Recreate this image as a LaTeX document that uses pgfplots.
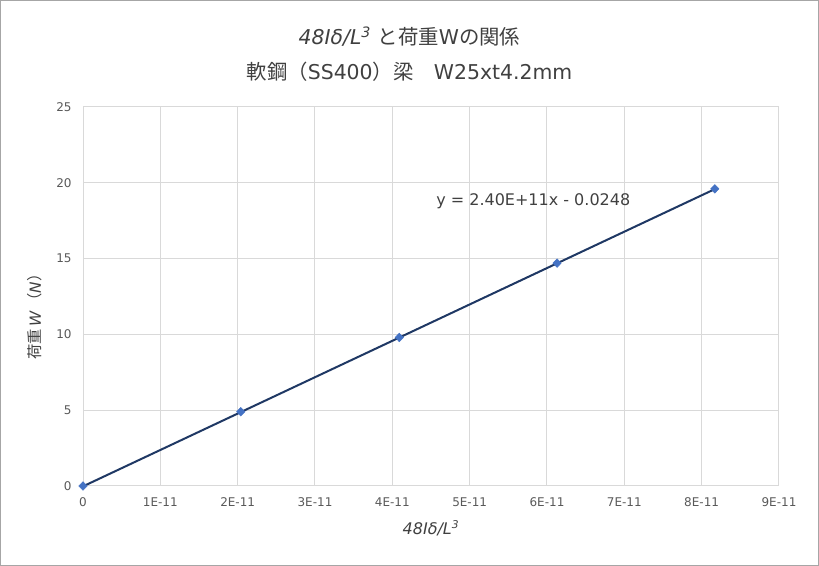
\documentclass[border=0pt]{standalone}
\usepackage{pgfplots}
\pgfplotsset{compat=1.18}
\usepackage{fontspec}
\setmainfont{DejaVu Sans}
\newfontfamily\jp{Noto Sans CJK JP}
\definecolor{gridgray}{HTML}{D9D9D9}
\definecolor{ticktext}{HTML}{595959}
\definecolor{labeltext}{HTML}{404040}
\definecolor{ptblue}{HTML}{4472C4}
\definecolor{trend}{HTML}{1F3864}
\definecolor{framegray}{HTML}{A6A6A6}

\begin{document}
\begin{tikzpicture}
\useasboundingbox (0,0) rectangle (614.25pt,424.5pt);
\draw[framegray, line width=0.75pt] (0.375pt,0.375pt) rectangle (613.875pt,424.125pt);
\begin{axis}[
    at={(62.25pt,60pt)}, anchor=south west,
    scale only axis, width=522pt, height=284.25pt,
    xmin=0, xmax=9e-11, ymin=0, ymax=25,
    xtick={0,1e-11,2e-11,3e-11,4e-11,5e-11,6e-11,7e-11,8e-11,9e-11},
    xticklabels={0,1E-11,2E-11,3E-11,4E-11,5E-11,6E-11,7E-11,8E-11,9E-11},
    ytick={0,5,10,15,20,25},
    scaled x ticks=false,
    grid=major,
    grid style={gridgray, line width=0.75pt},
    axis line style={gridgray, line width=0.75pt},
    major tick length=0pt,
    tick label style={font=\fontsize{9}{11}\selectfont, text=ticktext},
    x tick label style={yshift=-5pt},
    y tick label style={xshift=-5pt},
    /pgf/number format/assume math mode=true,
    clip=false,
  ]
  % linear trendline y = 2.40E+11x - 0.0248
  \addplot[trend, line width=1.5pt, forget plot] coordinates {(0,-0.0248) (8.17e-11,19.583)};
  \addplot[only marks, mark=diamond*, mark size=3.2pt, color=ptblue,
           mark options={xscale=1.3}] coordinates {
      (0,0)
      (2.04e-11,4.9)
      (4.09e-11,9.8)
      (6.13e-11,14.7)
      (8.17e-11,19.6)
    };
  \node[anchor=west, font=\fontsize{12}{14}\selectfont, text=labeltext, inner sep=0pt]
    at (axis cs:4.565e-11,18.8) {y = 2.40E+11x - 0.0248};
\end{axis}
\node[font=\fontsize{15.3}{18}\selectfont, text=labeltext] at (307.1pt,396.75pt)
  {\textit{48Iδ/L\textsuperscript{3}} {\jp と荷重}W{\jp の関係}};
\node[font=\fontsize{15.3}{18}\selectfont, text=labeltext] at (307.1pt,370.5pt)
  {{\jp 軟鋼（}SS400{\jp ）梁　}W25xt4.2mm};
\node[font=\fontsize{12}{14}\selectfont, text=labeltext] at (323.25pt,28.5pt)
  {\textit{48Iδ/L\textsuperscript{3}}};
\node[font=\fontsize{11.5}{13}\selectfont, text=labeltext, rotate=90] at (26.25pt,189.75pt)
  {{\jp 荷重}\,\textit{W}\,{\jp （}\textit{N}{\jp ）}};
\end{tikzpicture}
\end{document}
